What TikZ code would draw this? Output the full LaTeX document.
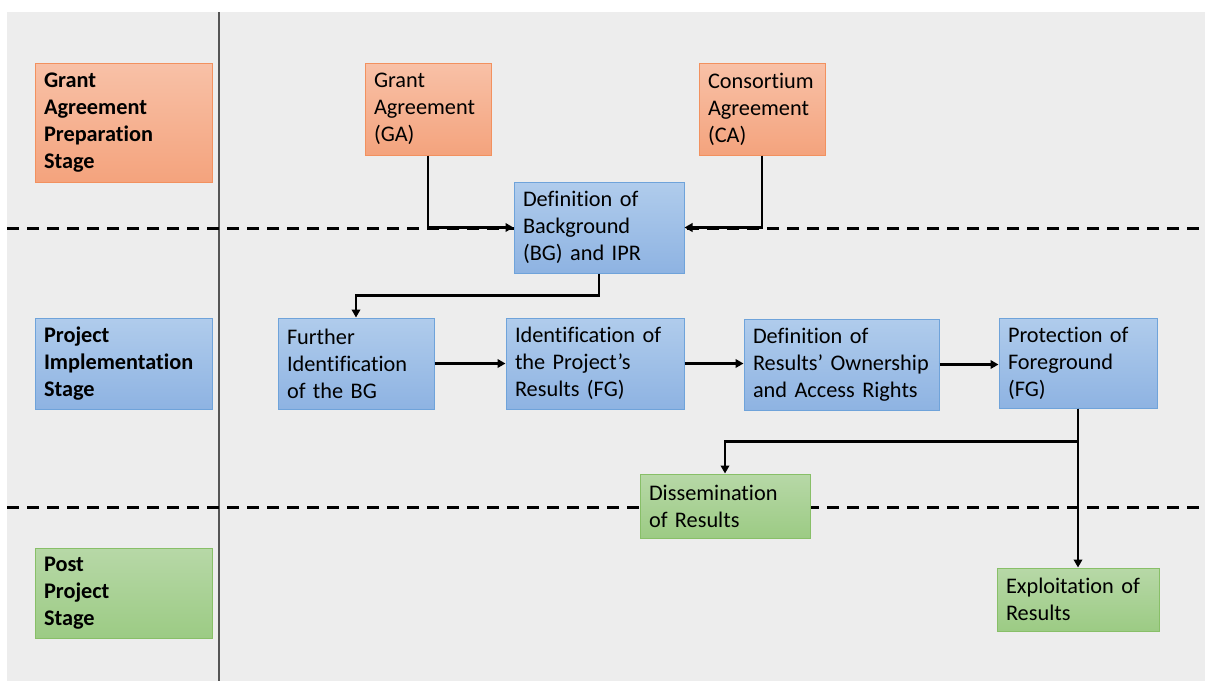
\documentclass[tikz,border=0pt]{standalone}
\usepackage{fontspec}
\setmainfont{Carlito}[Ligatures=NoCommon]
\usetikzlibrary{arrows.meta}
\definecolor{bggray}{HTML}{EDEDED}
\definecolor{otop}{HTML}{F8C1A7}
\definecolor{obot}{HTML}{F4A37D}
\definecolor{obrd}{HTML}{F2915F}
\definecolor{btop}{HTML}{B0CCEC}
\definecolor{bbot}{HTML}{8EB3E2}
\definecolor{bbrd}{HTML}{6FA3DA}
\definecolor{gtop}{HTML}{B7D8A7}
\definecolor{gbot}{HTML}{9CCB84}
\definecolor{gbrd}{HTML}{88BF68}
\definecolor{vline}{HTML}{555555}
\newcommand{\myboxfont}{\fontsize{22.3}{27}\selectfont\hyphenpenalty10000\relax\exhyphenpenalty10000\relax}
\begin{document}
\begin{tikzpicture}[x=1pt,y=-1pt,
  box/.style={draw, line width=1pt, inner xsep=9pt, inner ysep=0pt, align=left,
    font=\myboxfont, text=black},
  stagebox/.style={box, font=\myboxfont\bfseries},
  orangebox/.style={top color=otop, bottom color=obot, draw=obrd},
  bluebox/.style={top color=btop, bottom color=bbot, draw=bbrd},
  greenbox/.style={top color=gtop, bottom color=gbot, draw=gbrd},
  dashline/.style={line width=3pt, dash pattern=on 12pt off 8pt},
  conn/.style={line width=2.6pt, -{Triangle[length=8pt,width=8.5pt]}}
]
\useasboundingbox (0,0) rectangle (1205,681);
\fill[white] (0,0) rectangle (1205,681);
\fill[bggray] (7,12) rectangle (1205,681);
\draw[vline, line width=1.3pt] (219,12) -- (219,681);
\draw[dashline] (7,228) -- (1205,228);
\draw[dashline] (7,507) -- (1205,507);

% stage boxes
\node[stagebox, orangebox, text width=159pt, minimum height=119pt] (s1) at (123.5,122.5) {Grant\\Agreement\\Preparation\\Stage};
\node[stagebox, bluebox, text width=159pt, minimum height=91pt] (s2) at (123.5,363.5) {Project\\Implementation\\Stage};
\node[stagebox, greenbox, text width=159pt, minimum height=90pt] (s3) at (123.5,593) {Post\\Project\\Stage};

% process boxes
\node[box, orangebox, text width=108pt, minimum height=92pt] (ga) at (428,109) {Grant\\Agreement\\(GA)};
\node[box, orangebox, text width=108pt, minimum height=92pt] (ca) at (762,109) {Consortium\\Agreement\\(CA)};
\node[box, bluebox, text width=152pt, minimum height=91pt] (bg) at (599,227.5) {Definition~of\\Background\\(BG)~and~IPR};
\node[box, bluebox, text width=138pt, minimum height=91pt] (fib) at (356,363.5) {Further\\Identification\\of~the~BG};
\node[box, bluebox, text width=160pt, minimum height=91pt] (idr) at (595,363.5) {Identification~of\\the~Project’s\\Results~(FG)};
\node[box, bluebox, text width=177pt, minimum height=91pt] (dro) at (841.5,364.5) {Definition~of\\Results’~Ownership\\and~Access~Rights};
\node[box, bluebox, text width=140pt, minimum height=90pt] (pfg) at (1078,363) {Protection~of\\Foreground\\(FG)};
\node[box, greenbox, text width=152pt, minimum height=64pt] (dis) at (725,506) {Dissemination\\of~Results};
\node[box, greenbox, text width=144pt, minimum height=63pt] (exp) at (1078,599.5) {Exploitation~of\\Results};

% connectors
\draw[conn] (ga.south) |- (bg.west);
\draw[conn] (ca.south) |- (bg.east);
\draw[conn] (bg.south) -- ++(0,22) -| (fib.north);
\draw[conn] (fib.east) -- (idr.west);
\draw[conn] (idr.east) -- (idr.east -| dro.west);
\draw[conn] (dro.east) -- (dro.east -| pfg.west);
\draw[conn] (pfg.south) -- ++(0,33) -| (dis.north);
\draw[conn] (pfg.south) -- (exp.north);
\end{tikzpicture}
\end{document}
